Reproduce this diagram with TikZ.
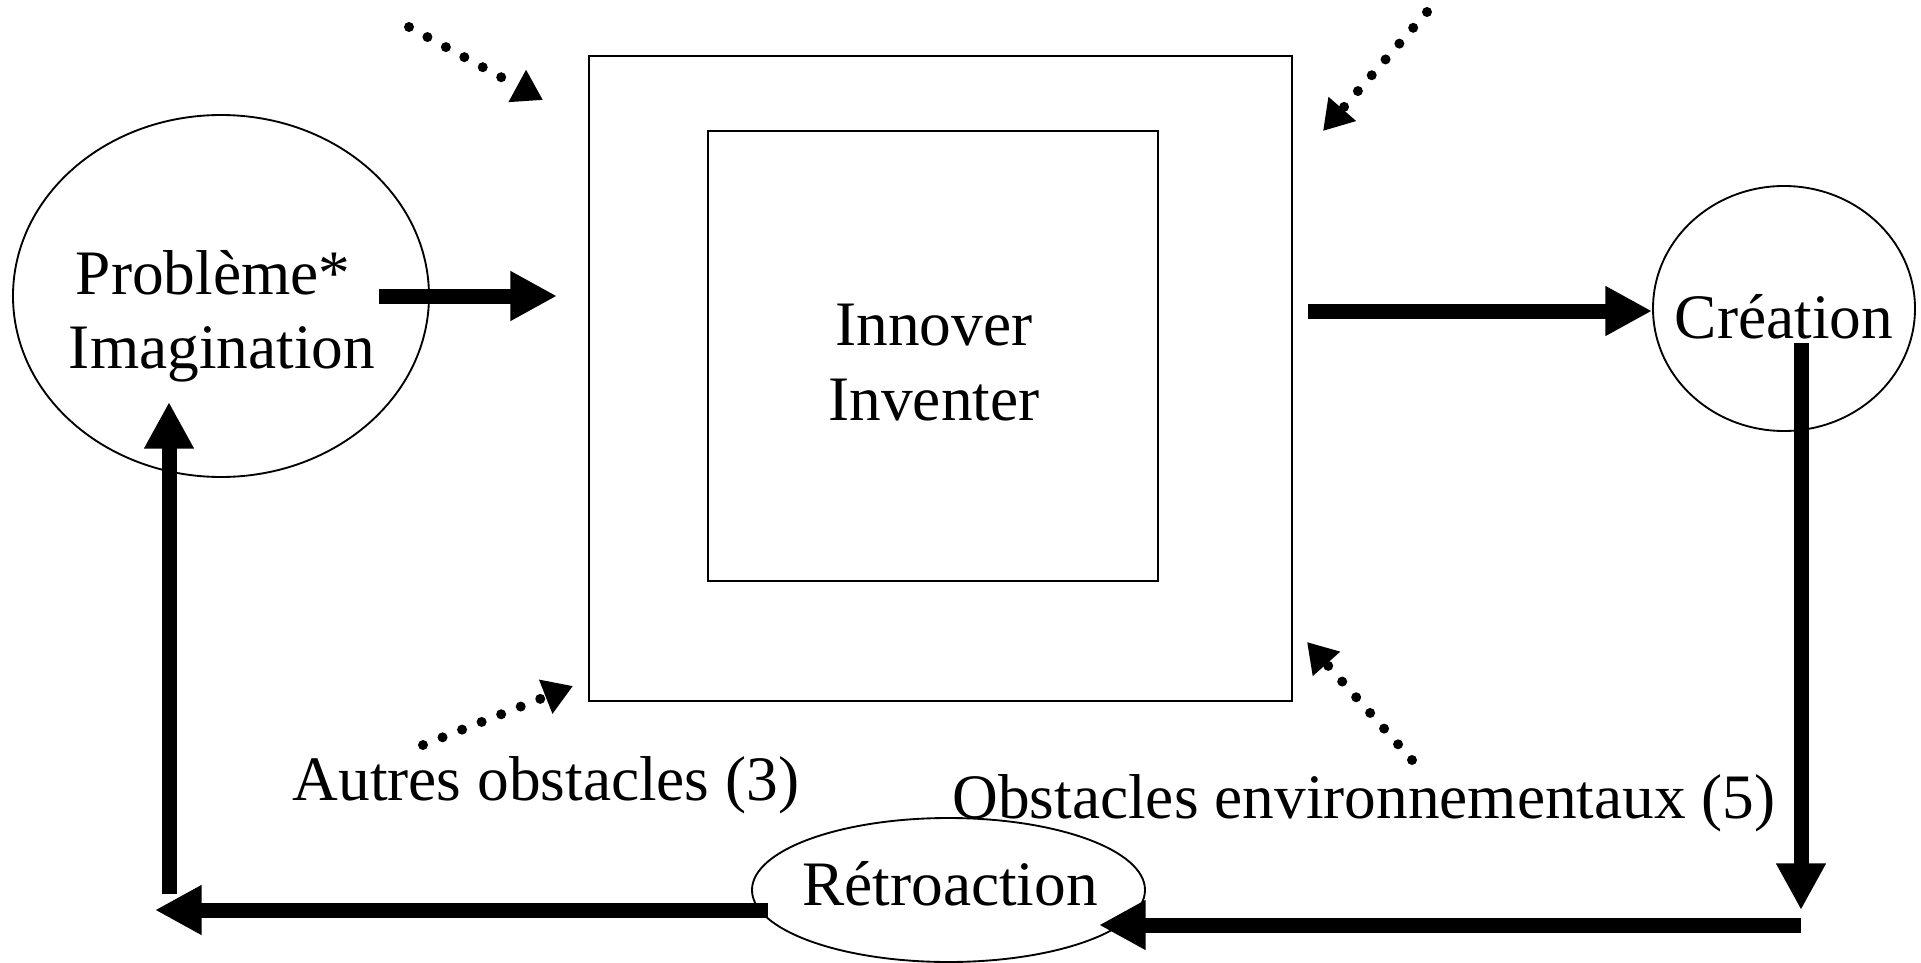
\documentclass[tikz,border=0pt]{standalone}
\usepackage{fontspec}
\setmainfont{Liberation Serif}
\usepackage{tikz}
\usetikzlibrary{shapes}
\usetikzlibrary{arrows.meta, positioning}

\tikzset{
  thin shape/.style={draw, line width=1.4pt, inner sep=0pt},
  big arrow/.style={line width=11.25pt, -{Triangle[length=35pt,width=35pt]}},
  dot arrow/.style={line width=7.5pt, line cap=round, dash pattern=on 0pt off 15.75pt, -{Triangle[length=22pt,width=26pt]}},
  label text/.style={font=\fontsize{47.5}{55}\selectfont, inner sep=0pt, anchor=base}
}

\begin{document}
\begin{tikzpicture}[x=0.75pt,y=0.75pt,yscale=-1,xscale=1]
\useasboundingbox (0,0) rectangle (1921,963);

%Shape: Ellipse
\node[thin shape, ellipse, minimum width=312pt, minimum height=271.5pt] (probleme) at (221,296) {};
%Shape: Square
\node[thin shape, rectangle, minimum width=527.25pt, minimum height=483.75pt] (cadre) at (940.5,378.5) {};
%Shape: Square
\node[thin shape, rectangle, minimum width=337.5pt, minimum height=337.5pt] (noyau) at (933,356) {};
%Shape: Ellipse
\node[thin shape, ellipse, minimum width=196.5pt, minimum height=183.75pt] (creation) at (1784,308.5) {};
%Shape: Ellipse
\node[thin shape, ellipse, minimum width=294.75pt, minimum height=108pt] (retro) at (948.5,890) {};

%Arrow ends
\coordinate (pOut) at (379,296);
\coordinate (cIn) at (557,296);
\coordinate (cOut) at (1308,311);
\coordinate (crIn) at (1652,311);
\coordinate (crOut) at (1801,343);
\coordinate (coinBas) at (1801,910);
\coordinate (rIn) at (1099,925);
\coordinate (rDep) at (1801,925);
\coordinate (rOut) at (768,910);
\coordinate (gauche) at (155,910);
\coordinate (gMont) at (169,894);
\coordinate (pIn) at (169,402);

%Straight Lines
\draw[big arrow] (pOut) -- (cIn);
\draw[big arrow] (cOut) -- (crIn);
\draw[big arrow] (crOut) -- (coinBas);
\draw[big arrow] (rDep) -- (rIn);
\draw[big arrow] (rOut) -- (gauche);
\draw[big arrow] (gMont) -- (pIn);

%Dotted Lines
\coordinate (o1) at (409,27);   \coordinate (o1t) at (543,100);
\coordinate (o2) at (1427,12);  \coordinate (o2t) at (1323,131);
\coordinate (o3) at (423,745);  \coordinate (o3t) at (573,686);
\coordinate (o4) at (1412,760); \coordinate (o4t) at (1307,642);
\draw[dot arrow] (o1) -- (o1t);
\draw[dot arrow] (o2) -- (o2t);
\draw[dot arrow] (o3) -- (o3t);
\draw[dot arrow] (o4) -- (o4t);

% Text Node
\node[label text] (tProb) at (213,294) {Problème*};
% Text Node
\node[label text] (tImag) at (222,368) {Imagination};
% Text Node
\node[label text] (tInno) at (934,345) {Innover};
% Text Node
\node[label text] (tInve) at (934,420) {Inventer};
% Text Node
\node[label text] (tCrea) at (1784,338) {Création};
% Text Node
\node[label text] (tRetro) at (950,905) {Rétroaction};
% Text Node
\node[label text] (tAutres) at (546,800) {Autres obstacles (3)};
% Text Node
\node[label text] (tEnv) at (1364,818) {Obstacles environnementaux (5)};

\end{tikzpicture}
\end{document}
